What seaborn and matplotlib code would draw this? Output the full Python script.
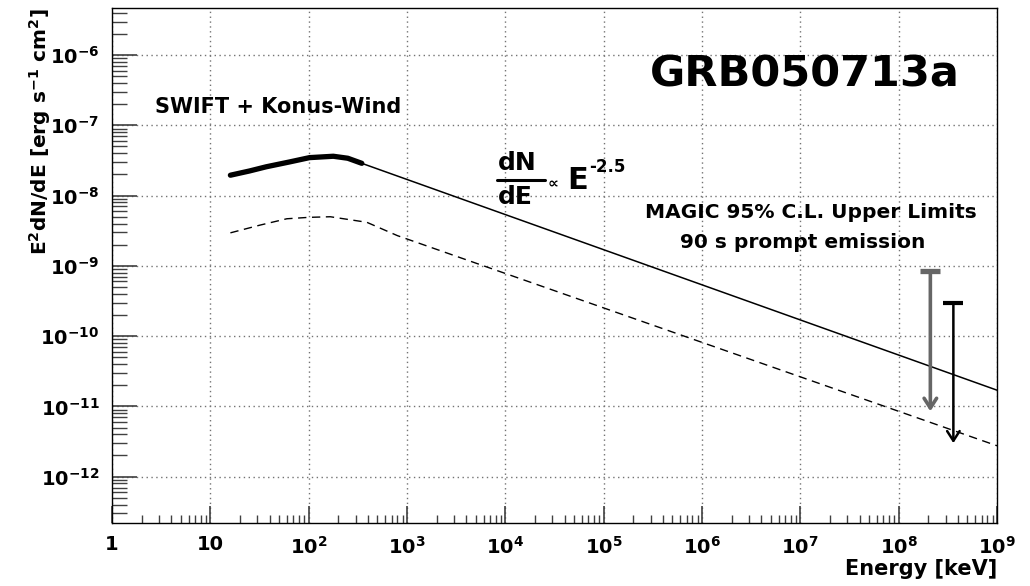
import numpy as np
import pandas as pd
import matplotlib
matplotlib.use("Agg")
import matplotlib.pyplot as plt
import matplotlib.ticker as mticker
import seaborn as sns

# ---------------- data ----------------
prompt_E = [16, 25, 37, 63, 102, 178, 250, 347]
prompt_flux = [1.95e-8, 2.24e-8, 2.57e-8, 3.0e-8, 3.47e-8, 3.63e-8, 3.4e-8, 2.88e-8]

ext_E = [347, 1e9]
ext_flux = [2.88e-8, 1.7e-11]

low_E = [16, 32, 60, 100, 166, 390, 800, 1e9]
low_flux = [2.95e-9, 3.8e-9, 4.68e-9, 4.9e-9, 5.0e-9, 4.17e-9, 2.69e-9, 2.75e-12]

ul_E = [2.1e8, 3.6e8]
ul_flux = [8.5e-10, 3.0e-10]

x_ticks = [1, 1e1, 1e2, 1e3, 1e4, 1e5, 1e6, 1e7, 1e8, 1e9]
x_tick_labels = ["1", "10", "$10^{2}$", "$10^{3}$", "$10^{4}$", "$10^{5}$",
                 "$10^{6}$", "$10^{7}$", "$10^{8}$", "$10^{9}$"]
y_ticks = [1e-12, 1e-11, 1e-10, 1e-9, 1e-8, 1e-7, 1e-6]
y_tick_labels = ["$10^{-12}$", "$10^{-11}$", "$10^{-10}$", "$10^{-9}$",
                 "$10^{-8}$", "$10^{-7}$", "$10^{-6}$"]

# ---------------- style ----------------
sns.set_style("white")
plt.rcParams['font.family'] = ['DejaVu Sans']
plt.rcParams['font.weight'] = 'bold'
plt.rcParams['mathtext.fontset'] = 'custom'
plt.rcParams['mathtext.rm'] = 'DejaVu Sans:bold'
plt.rcParams['mathtext.it'] = 'DejaVu Sans:bold'
plt.rcParams['mathtext.bf'] = 'DejaVu Sans:bold'
plt.rcParams['mathtext.default'] = 'bf'
for k in ['text.color', 'axes.labelcolor']:
    plt.rcParams[k] = 'black'

fig = plt.figure(figsize=(10.3, 5.86), dpi=100)
ax = fig.add_axes([112 / 1030, 63 / 586, 885 / 1030, 515 / 586])

sns.lineplot(x=prompt_E, y=prompt_flux, ax=ax, color='black', linewidth=3.8,
             estimator=None, solid_capstyle='round')
sns.lineplot(x=ext_E, y=ext_flux, ax=ax, color='black', linewidth=1.1, estimator=None)
sns.lineplot(x=low_E, y=low_flux, ax=ax, color='black', linewidth=1.0,
             estimator=None, linestyle=(0, (6, 4)))

# upper limits
for E, f, c, lw in zip(ul_E, ul_flux, ['0.4', 'black'], [2.6, 1.8]):
    ax.annotate('', xy=(E, f / 100.0), xytext=(E, f),
                arrowprops=dict(arrowstyle='->,head_length=0.7,head_width=0.45',
                                color=c, lw=lw, shrinkA=0, shrinkB=0))
    ax.plot([E], [f], marker='_', markersize=14, mew=lw + 1.2, color=c)

ax.set_xscale('log')
ax.set_yscale('log')
ax.set_xlim(1, 1e9)
ax.set_ylim(10 ** -12.66, 10 ** -5.33)

ax.set_xticks(x_ticks, x_tick_labels)
ax.set_yticks(y_ticks, y_tick_labels)
ax.xaxis.set_minor_locator(mticker.LogLocator(base=10, subs=range(2, 10), numticks=30))
ax.yaxis.set_minor_locator(mticker.LogLocator(base=10, subs=range(2, 10), numticks=30))
ax.xaxis.set_minor_formatter(mticker.NullFormatter())
ax.yaxis.set_minor_formatter(mticker.NullFormatter())

ax.tick_params(which='both', direction='in', top=False, right=False,
               bottom=True, left=True, labelsize=14, color='0.25', labelcolor='black')
ax.tick_params(axis='y', which='major', length=18, width=1.2, pad=9)
ax.tick_params(axis='y', which='minor', length=11, width=1.0)
ax.tick_params(axis='x', which='major', length=12, width=1.2, pad=9)
ax.tick_params(axis='x', which='minor', length=6, width=1.0)

ax.grid(True, which='major', linestyle=(0, (1, 2.5)), color='0.45', linewidth=1.0)
for s in ax.spines.values():
    s.set_color('black')
    s.set_linewidth(1.0)

ax.set_xlabel("Energy [keV]", loc='right', fontsize=15, fontweight='bold', labelpad=1)
ax.set_ylabel(r"E$^{2}$dN/dE [erg s$^{-1}$ cm$^{2}$]", loc='top', fontsize=14.5,
              fontweight='bold')
ax.yaxis.set_label_coords(-0.067, 1.0)

# annotations
T = ax.transAxes
ax.text(0.783, 0.870, "GRB050713a", transform=T, fontsize=31, fontweight='bold',
        ha='center', va='center')
ax.text(0.0486, 0.808, "SWIFT + Konus-Wind", transform=T, fontsize=15,
        fontweight='bold', ha='left', va='center')
ax.text(0.436, 0.699, "dN", transform=T, fontsize=18, fontweight='bold',
        ha='left', va='center')
ax.plot([0.435, 0.489], [0.666, 0.666], transform=T, color='black', lw=2.2)
ax.text(0.436, 0.633, "dE", transform=T, fontsize=18, fontweight='bold',
        ha='left', va='center')
ax.text(0.498, 0.660, "\u221d", transform=T, fontsize=11, fontweight='bold',
        ha='center', va='center')
ax.text(0.514, 0.666, "E", transform=T, fontsize=22, fontweight='bold',
        ha='left', va='center')
ax.text(0.539, 0.692, "-2.5", transform=T, fontsize=12, fontweight='bold',
        ha='left', va='center')
ax.text(0.7895, 0.602, "MAGIC 95% C.L. Upper Limits", transform=T, fontsize=14.5,
        fontweight='bold', ha='center', va='center')
ax.text(0.780, 0.544, "90 s prompt emission", transform=T, fontsize=14.5,
        fontweight='bold', ha='center', va='center')

fig.savefig("out.png", dpi=100)
